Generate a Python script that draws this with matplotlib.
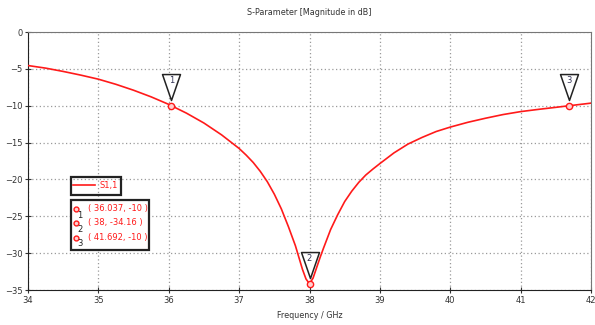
import numpy as np
import matplotlib
matplotlib.use("Agg")
import matplotlib.pyplot as plt
from matplotlib.path import Path
from matplotlib.patches import Rectangle

# S1,1 curve
freq = [34.0, 34.25, 34.5, 34.75, 35.0, 35.25, 35.5, 35.75, 36.0, 36.037, 36.25, 36.5,
        36.75, 37.0, 37.1, 37.2, 37.3, 37.4, 37.5, 37.6, 37.7, 37.8, 37.9, 37.95, 38.0,
        38.05, 38.1, 38.15, 38.2, 38.3, 38.4, 38.5, 38.6, 38.7, 38.8, 38.9, 39.0,
        39.2, 39.4, 39.6, 39.8, 40.0, 40.25, 40.5, 40.75, 41.0, 41.25, 41.5, 41.692, 42.0]
s11 = [-4.55, -4.9, -5.35, -5.85, -6.4, -7.1, -7.9, -8.8, -9.82, -10.0, -11.0, -12.35,
       -13.95, -15.8, -16.7, -17.7, -18.9, -20.3, -22.0, -24.0, -26.4, -29.0, -32.2, -33.5, -34.16,
       -33.4, -32.0, -30.6, -29.3, -26.8, -24.8, -23.0, -21.6, -20.4, -19.4, -18.6, -17.85,
       -16.4, -15.2, -14.3, -13.5, -12.9, -12.25, -11.7, -11.2, -10.8, -10.5, -10.22, -10.0, -9.65]

marker_f = [36.037, 38.0, 41.692]
marker_db = [-10.0, -34.16, -10.0]
marker_txt = ["( 36.037, -10 )", "( 38, -34.16 )", "( 41.692, -10 )"]

W, H = 595, 325
fig = plt.figure(figsize=(W / 100, H / 100), dpi=100)
ax = fig.add_axes([28 / W, 1 - 290 / H, (591 - 28) / W, (290 - 32) / H])

red = "#ff1a1a"
ax.plot(freq, s11, color=red, lw=1.2, zorder=3)

ax.set_xlim(34, 42)
ax.set_ylim(-35, 0)
ax.set_xticks(range(34, 43))
ax.set_yticks(range(-35, 1, 5))
ax.grid(True, color="#9a9a9a", linestyle=(0, (1, 2)), lw=0.9)
ax.tick_params(labelsize=6, colors="#333333", direction="inout", length=4, width=0.8, pad=2)
for s in ["left", "bottom"]:
    ax.spines[s].set_color("#222222")
for s in ["top", "right"]:
    ax.spines[s].set_color("#777777")
ax.set_title("S-Parameter [Magnitude in dB]", fontsize=5.8, color="#333333", pad=12)
ax.set_xlabel("Frequency / GHz", fontsize=5.8, color="#333333", labelpad=5)

# marker triangles above the points
tri = Path([(-9, 32), (9, 32), (0, 6), (-9, 32)], [Path.MOVETO, Path.LINETO, Path.LINETO, Path.CLOSEPOLY])
for i, (f, d) in enumerate(zip(marker_f, marker_db)):
    ax.plot(f, d, marker=tri, markersize=46, markerfacecolor="white",
            markeredgecolor="#222222", markeredgewidth=1.1, zorder=4, clip_on=False)
    ax.plot(f, d, "o", markersize=4.5, markerfacecolor="#ffd0d0",
            markeredgecolor=red, markeredgewidth=1.0, zorder=5)
    ax.annotate(str(i + 1), (f, d), xytext=(0, 18), textcoords="offset points",
                ha="center", va="center", fontsize=6, color="#333355", zorder=6)

# legend boxes drawn in pixel coordinates
def fx(x):
    return x / W

def fy(y):
    return 1 - y / H

fig.patches.append(Rectangle((fx(71), fy(195)), fx(121) - fx(71), fy(177) - fy(195),
                             transform=fig.transFigure, fill=False, edgecolor="#222222", lw=1.6))
fig.lines.append(plt.Line2D([fx(73), fx(95)], [fy(185), fy(185)], transform=fig.transFigure,
                            color=red, lw=1.2))
fig.text(fx(99), fy(185.5), "S1,1", fontsize=6, color=red, va="center", ha="left")

fig.patches.append(Rectangle((fx(71), fy(249.5)), fx(149) - fx(71), fy(199.5) - fy(249.5),
                             transform=fig.transFigure, facecolor="white", edgecolor="#222222", lw=1.6))
row_y = [209, 223, 237.5]
for i, (y, t) in enumerate(zip(row_y, marker_txt)):
    fig.lines.append(plt.Line2D([fx(75.5)], [fy(y)], transform=fig.transFigure, marker="o",
                                markersize=3.5, markerfacecolor="#ffd0d0", markeredgecolor=red,
                                markeredgewidth=1.0))
    fig.text(fx(77), fy(y + 6), str(i + 1), fontsize=6, color="#222222", va="center", ha="left")
    fig.text(fx(88), fy(y), t, fontsize=6, color=red, va="center", ha="left")

fig.savefig("out.png", dpi=100)
